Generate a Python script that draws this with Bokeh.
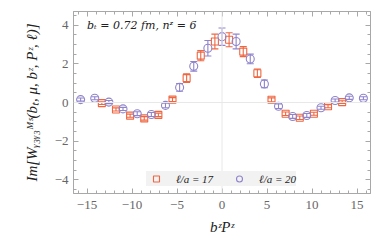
from bokeh.plotting import figure
from bokeh.models import (ColumnDataSource, Whisker, TeeHead, Label, Legend, LegendItem,
                          LinearAxis, Span, Range1d, SingleIntervalTicker, CustomJSTickFormatter)
from bokeh.embed import file_html
from bokeh.resources import INLINE

# data
blue_x = [-15.71, -14.14, -12.57, -11.00, -9.42, -7.85, -6.28, -4.71, -3.14, -1.57, 0.0,
          1.57, 3.14, 4.71, 6.28, 7.85, 9.42, 11.00, 12.57, 14.14, 15.71]
blue_y = [0.15, 0.22, 0.02, -0.33, -0.58, -0.62, -0.15, 0.78, 1.87, 2.80, 3.40,
          3.15, 2.25, 0.96, -0.19, -0.72, -0.67, -0.27, 0.10, 0.24, 0.22]
blue_err = [0.08, 0.08, 0.08, 0.08, 0.10, 0.10, 0.12, 0.20, 0.25, 0.40, 0.45,
            0.38, 0.25, 0.20, 0.12, 0.10, 0.10, 0.08, 0.08, 0.08, 0.08]

red_x = [-13.35, -11.78, -10.21, -8.64, -7.07, -5.50, -3.93, -2.36, -0.79,
         0.79, 2.36, 3.93, 5.50, 7.07, 8.64, 10.21, 11.78, 13.35]
red_y = [-0.03, -0.36, -0.68, -0.82, -0.64, 0.15, 1.26, 2.42, 3.15,
         3.24, 2.63, 1.51, 0.14, -0.58, -0.79, -0.58, -0.19, 0.02]
red_err = [0.07, 0.08, 0.08, 0.09, 0.09, 0.10, 0.22, 0.26, 0.38,
           0.36, 0.26, 0.22, 0.10, 0.09, 0.09, 0.08, 0.08, 0.07]

x_ticks = [-15, -10, -5, 0, 5, 10, 15]
y_ticks = [-4, -2, 0, 2, 4]

RED = "#ef6640"
BLUE = "#8f84cc"
FRAME = "#a8a8a8"
SERIF = "DejaVu Serif"

p = figure(width=382, height=243, output_backend="svg", toolbar_location=None,
           x_range=Range1d(-16.5, 16.5), y_range=Range1d(-4.7, 4.7),
           min_border_left=73, min_border_right=12, min_border_top=11, min_border_bottom=50)
p.xgrid.visible = False
p.ygrid.visible = False
p.outline_line_color = FRAME
p.background_fill_color = "white"
p.border_fill_color = "white"

bottom = p.below[0]
left = p.left[0]

def style_axis(ax, ticker, ticks, labels=True):
    ax.ticker = ticker
    ax.axis_line_color = FRAME
    ax.major_tick_line_color = FRAME
    ax.minor_tick_line_color = FRAME
    ax.major_tick_in = 5
    ax.major_tick_out = 0
    ax.minor_tick_in = 3
    ax.minor_tick_out = 0
    if labels:
        ax.major_label_text_font = "Liberation Serif"
        ax.major_label_text_font_size = "13px"
        ax.major_label_text_color = "#666666"
        ax.major_label_overrides = {t: (str(t).replace("-", "\u2212")) for t in ticks}
    else:
        ax.formatter = CustomJSTickFormatter(code="return ''")
        ax.major_label_text_font_size = "1px"
        ax.major_label_standoff = 0
        ax.axis_label_standoff = 0

style_axis(bottom, SingleIntervalTicker(interval=5, num_minor_ticks=5), x_ticks)
style_axis(left, SingleIntervalTicker(interval=2, num_minor_ticks=4), y_ticks)
bottom.major_label_standoff = 7
left.major_label_standoff = 5

top = LinearAxis()
style_axis(top, SingleIntervalTicker(interval=5, num_minor_ticks=5), x_ticks, labels=False)
p.add_layout(top, "above")
right = LinearAxis()
style_axis(right, SingleIntervalTicker(interval=2, num_minor_ticks=4), y_ticks, labels=False)
p.add_layout(right, "right")

bottom.axis_label = "b\u1dbbP\u1dbb"
left.axis_label = "Im[W\u1d67\u2083\u1d67\u2083\u1d39\u02e2(b\u209c, \u03bc, b\u1dbb, P\u1dbb, \u2113)]"
for ax in (bottom, left):
    ax.axis_label_text_font = "Liberation Serif"
    ax.axis_label_text_font_style = "italic"
    ax.axis_label_text_font_size = "15px"
    ax.axis_label_text_color = "#222222"
bottom.axis_label_standoff = 7
left.axis_label_standoff = 12

p.add_layout(Span(location=0, dimension="width", line_color="#e8e8e8", line_width=1))
p.add_layout(Span(location=0, dimension="height", line_color="#e8e8e8", line_width=1))

red_src = ColumnDataSource(dict(x=red_x, y=red_y,
                                lo=[v - e for v, e in zip(red_y, red_err)],
                                hi=[v + e for v, e in zip(red_y, red_err)]))
blue_src = ColumnDataSource(dict(x=blue_x, y=blue_y,
                                 lo=[v - e for v, e in zip(blue_y, blue_err)],
                                 hi=[v + e for v, e in zip(blue_y, blue_err)]))

r_red = p.scatter("x", "y", source=red_src, marker="square", size=7, fill_color=None,
                  line_color=RED, line_width=1.1)
r_blue = p.scatter("x", "y", source=blue_src, marker="circle", size=8, fill_color=None,
                   line_color=BLUE, line_width=1.1)

for src, col in ((red_src, RED), (blue_src, BLUE)):
    w = Whisker(source=src, base="x", lower="lo", upper="hi", line_color=col, line_width=1.1,
                upper_head=TeeHead(size=7, line_color=col, line_width=1.1),
                lower_head=TeeHead(size=7, line_color=col, line_width=1.1))
    p.add_layout(w)

p.add_layout(Label(x=-15.0, y=4.0, text="b\u209c = 0.72 fm,  n\u1dbb = 6", text_font=SERIF,
                   text_font_style="italic", text_font_size="11px", text_color="#222222",
                   text_baseline="middle"))

legend = Legend(items=[LegendItem(label="\u2113/a = 17", renderers=[r_red]),
                       LegendItem(label="\u2113/a = 20", renderers=[r_blue])],
                orientation="horizontal", location=(73, 7),
                background_fill_color="#f2f2f2", background_fill_alpha=1.0,
                border_line_color=None, padding=7, margin=0, spacing=16,
                glyph_width=20, glyph_height=15, label_standoff=10,
                label_text_font="Liberation Serif", label_text_font_style="italic",
                label_text_font_size="11px", label_text_color="#222222")
p.add_layout(legend, "center")

open("out.html", "w").write(file_html(p, INLINE))
